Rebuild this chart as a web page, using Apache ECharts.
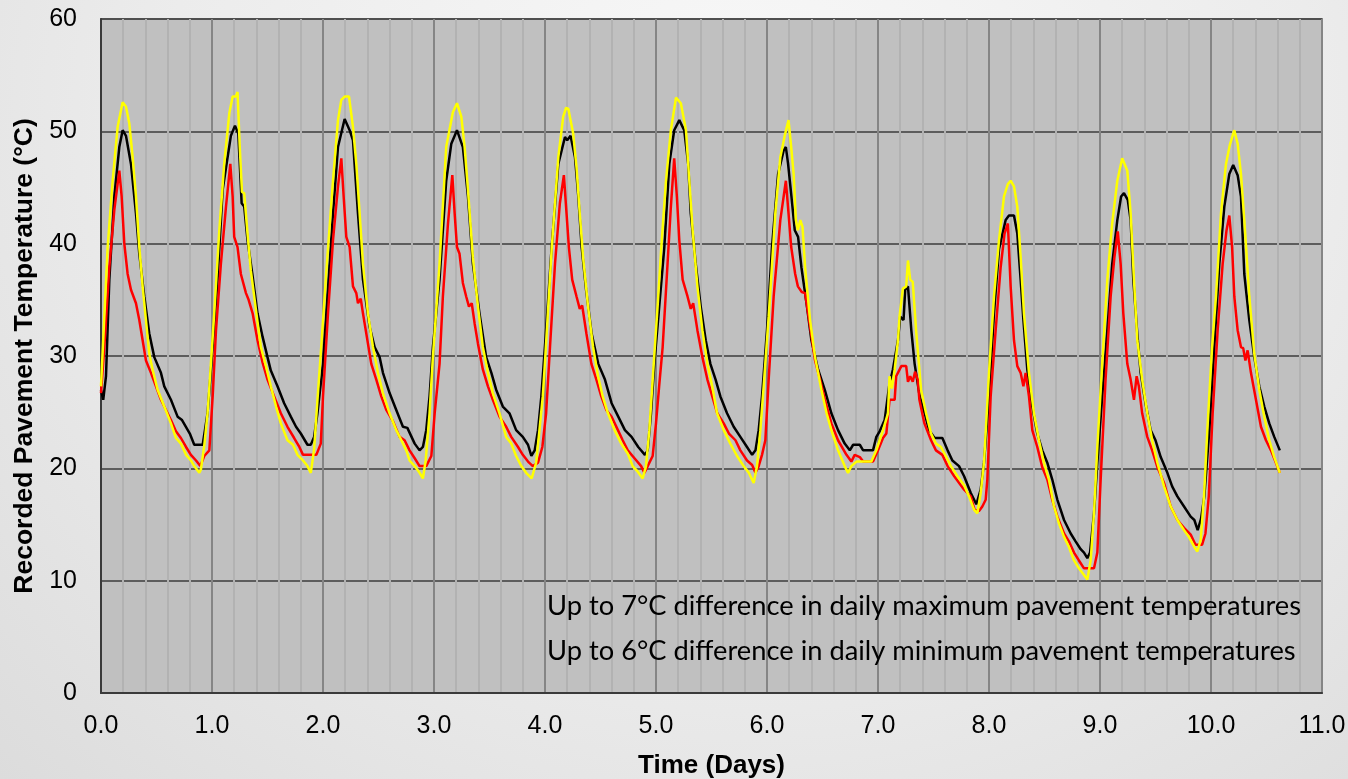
<!DOCTYPE html>
<html>
<head>
<meta charset="utf-8">
<script src="https://cdn.jsdelivr.net/npm/echarts@6/dist/echarts.min.js"></script>
<style>
  html, body { margin: 0; padding: 0; width: 1348px; height: 779px; overflow: hidden; }
  body { background: radial-gradient(ellipse at 55% 15%, #f8f8f8 0%, #ececec 55%, #dcdcdc 100%); }
  #chart { width: 1348px; height: 779px; }
</style>
</head>
<body>
<div id="chart"></div>
<script>
// Tick labels
const xTicks = [0, 1, 2, 3, 4, 5, 6, 7, 8, 9, 10, 11];
const yTicks = [0, 10, 20, 30, 40, 50, 60];

// [time (days), temperature (°C)] readings
const blackSeries = [
[0,27.0],[0.02,26.1],[0.045,28.2],[0.075,36.8],[0.12,44.2],[0.165,48.6],[0.195,50.1],[0.225,49.6],[0.27,47.1],[0.315,42.7],[0.345,39.1],[0.39,35.3],[0.435,32.0],[0.48,29.9],[0.54,28.5],[0.57,27.3],[0.63,26.1],[0.69,24.6],[0.73,24.3],[0.8,23.1],[0.84,22.1],[0.916,22.1],[0.96,24.9],
[1.006,30.8],[1.05,36.8],[1.096,44.8],[1.17,49.6],[1.207,50.5],[1.237,49.8],[1.267,43.6],[1.29,43.3],[1.32,40.3],[1.366,37.1],[1.41,33.8],[1.456,31.7],[1.5,29.9],[1.53,28.7],[1.59,27.3],[1.65,25.8],[1.71,24.6],[1.757,23.7],[1.8,23.1],[1.86,22.1],[1.89,22.1],[1.92,22.8],[1.95,24.9],
[2.0,29.3],[2.03,33.8],[2.09,42.7],[2.135,48.6],[2.195,51.1],[2.24,50.1],[2.27,49.2],[2.315,42.7],[2.36,36.8],[2.42,32.6],[2.465,30.8],[2.51,29.9],[2.54,28.5],[2.6,26.7],[2.66,25.2],[2.72,23.7],[2.76,23.6],[2.826,22.2],[2.87,21.6],[2.9,21.9],[2.93,23.4],[2.96,26.4],[2.99,30.8],
[3.05,36.8],[3.11,45.6],[3.156,48.9],[3.207,50.1],[3.26,48.6],[3.306,44.2],[3.35,38.2],[3.41,33.8],[3.47,29.9],[3.517,28.5],[3.56,27.0],[3.62,25.5],[3.68,24.9],[3.74,23.4],[3.8,22.8],[3.847,22.1],[3.877,21.1],[3.907,21.6],[3.937,23.4],[3.967,26.4],
[4.01,32.3],[4.06,39.7],[4.12,47.1],[4.18,49.5],[4.2,49.2],[4.23,49.6],[4.27,47.7],[4.3,44.2],[4.33,39.7],[4.37,35.9],[4.42,32.0],[4.48,29.3],[4.54,27.9],[4.6,25.8],[4.66,24.6],[4.72,23.4],[4.78,22.8],[4.84,21.9],[4.9,21.2],[4.925,21.6],[4.955,24.9],[4.985,29.3],
[5.03,34.5],[5.075,39.7],[5.12,47.1],[5.164,50.1],[5.21,51.0],[5.254,50.1],[5.29,47.1],[5.313,42.7],[5.358,38.2],[5.403,34.4],[5.448,31.4],[5.49,29.3],[5.537,27.9],[5.58,26.4],[5.64,24.9],[5.7,23.7],[5.76,22.8],[5.82,21.9],[5.866,21.2],[5.896,21.6],[5.925,23.4],[5.955,26.4],
[6.0,32.3],[6.045,39.7],[6.1,46.2],[6.15,48.3],[6.17,48.6],[6.19,47.1],[6.22,44.2],[6.25,41.2],[6.28,40.6],[6.31,37.9],[6.36,34.4],[6.4,31.4],[6.46,28.8],[6.52,27.0],[6.58,24.9],[6.64,23.4],[6.7,22.2],[6.746,21.6],[6.776,22.1],[6.836,22.1],[6.866,21.6],[6.955,21.6],[6.985,22.8],
[7.015,23.3],[7.06,24.3],[7.1,27.3],[7.134,28.8],[7.18,31.4],[7.2,33.5],[7.23,33.2],[7.245,35.9],[7.27,36.2],[7.3,32.3],[7.33,29.3],[7.376,26.4],[7.42,24.9],[7.46,23.4],[7.51,22.7],[7.58,22.7],[7.627,21.6],[7.67,20.7],[7.73,20.2],[7.776,19.3],[7.836,17.8],[7.886,16.8],[7.925,18.1],[7.955,20.5],
[8.0,26.4],[8.045,33.8],[8.09,39.5],[8.15,42.1],[8.18,42.5],[8.225,42.5],[8.255,40.9],[8.285,36.8],[8.31,33.2],[8.345,28.8],[8.39,25.5],[8.435,23.1],[8.48,21.6],[8.525,20.5],[8.57,19.0],[8.616,17.2],[8.676,15.4],[8.736,14.2],[8.78,13.5],[8.826,12.8],[8.856,12.5],[8.886,12.0],[8.91,12.5],[8.946,16.0],[8.976,20.5],
[9.02,26.4],[9.066,32.3],[9.11,38.2],[9.156,42.1],[9.19,44.2],[9.216,44.5],[9.25,43.9],[9.276,42.1],[9.3,36.8],[9.336,32.0],[9.366,28.5],[9.41,25.8],[9.456,23.4],[9.5,22.5],[9.547,21.0],[9.607,19.6],[9.65,18.4],[9.697,17.5],[9.757,16.6],[9.817,15.7],[9.85,15.4],[9.88,14.5],[9.91,15.5],[9.94,17.5],[9.985,23.4],
[10.03,30.8],[10.075,38.2],[10.12,43.3],[10.165,46.2],[10.2,47.0],[10.24,46.1],[10.27,44.2],[10.3,37.3],[10.345,33.2],[10.39,29.9],[10.435,27.3],[10.48,25.5],[10.525,24.0],[10.57,22.8],[10.62,21.6]
];

const yellowSeries = [
[0,27.3],[0.06,39.7],[0.105,45.6],[0.15,50.4],[0.195,52.6],[0.225,52.2],[0.255,50.7],[0.285,47.7],[0.315,44.2],[0.345,39.7],[0.375,36.2],[0.405,33.2],[0.435,30.2],[0.465,28.8],[0.51,27.0],[0.57,25.5],[0.63,24.0],[0.675,22.7],[0.72,22.2],[0.766,21.2],[0.81,20.7],[0.84,20.2],[0.886,19.6],[0.9,19.9],[0.93,22.0],[0.96,24.9],[0.99,29.3],
[1.02,33.8],[1.066,41.2],[1.11,47.1],[1.156,51.6],[1.186,53.1],[1.215,53.1],[1.23,53.5],[1.25,48.6],[1.27,44.6],[1.29,44.5],[1.32,40.9],[1.35,37.6],[1.40,33.8],[1.44,30.8],[1.486,29.1],[1.53,27.3],[1.577,25.5],[1.62,24.0],[1.68,22.5],[1.73,22.1],[1.77,21.2],[1.82,20.7],[1.86,20.2],[1.89,19.6],[1.92,21.7],[1.95,26.1],[1.98,30.2],
[2.03,37.5],[2.09,45.6],[2.135,51.0],[2.165,52.8],[2.195,53.1],[2.234,53.1],[2.27,50.4],[2.3,47.1],[2.33,42.7],[2.36,38.2],[2.405,33.8],[2.45,30.8],[2.495,28.5],[2.54,26.7],[2.6,24.9],[2.66,23.4],[2.706,22.5],[2.75,21.6],[2.78,20.7],[2.826,20.2],[2.87,19.6],[2.9,19.1],[2.925,20.7],[2.96,24.9],[2.99,29.9],
[3.05,38.2],[3.11,48.6],[3.17,51.7],[3.207,52.5],[3.246,51.3],[3.276,48.6],[3.306,44.8],[3.35,38.8],[3.396,34.4],[3.44,30.8],[3.486,28.5],[3.53,26.7],[3.59,24.9],[3.65,22.8],[3.696,22.2],[3.74,21.1],[3.787,20.2],[3.83,19.6],[3.88,19.1],[3.92,20.5],[3.95,23.4],[3.98,26.4],
[4.0,29.5],[4.06,39.5],[4.12,47.7],[4.164,51.3],[4.19,52.1],[4.21,52.0],[4.254,49.8],[4.284,46.8],[4.313,42.7],[4.343,38.8],[4.388,34.4],[4.433,30.8],[4.478,28.2],[4.52,26.4],[4.567,24.9],[4.627,23.4],[4.687,22.2],[4.746,21.3],[4.79,20.2],[4.836,19.7],[4.88,19.1],[4.91,20.2],[4.94,23.4],[4.97,27.9],
[5.015,34.5],[5.05,40.0],[5.09,45.6],[5.134,50.1],[5.18,53.0],[5.224,52.5],[5.27,50.1],[5.3,45.6],[5.33,41.2],[5.373,36.2],[5.418,32.3],[5.463,29.3],[5.507,27.3],[5.55,24.9],[5.61,23.4],[5.67,22.2],[5.73,21.1],[5.79,20.2],[5.836,19.6],[5.88,18.7],[5.91,20.2],[5.94,23.4],[5.97,27.3],
[6.015,33.5],[6.075,42.7],[6.12,47.7],[6.164,49.8],[6.194,51.0],[6.218,48.6],[6.24,46.2],[6.26,42.1],[6.278,41.2],[6.3,42.1],[6.32,41.5],[6.343,37.9],[6.388,33.2],[6.433,29.9],[6.49,27.0],[6.537,24.9],[6.58,23.4],[6.64,21.6],[6.7,20.2],[6.73,19.6],[6.76,20.2],[6.806,20.6],[6.94,20.6],[6.985,21.6],
[7.015,22.5],[7.045,23.4],[7.09,24.9],[7.104,28.2],[7.125,27.1],[7.15,28.8],[7.18,31.4],[7.194,33.5],[7.224,36.0],[7.254,36.2],[7.27,38.5],[7.29,36.8],[7.313,36.6],[7.343,32.3],[7.388,27.0],[7.433,24.9],[7.478,23.1],[7.522,22.2],[7.567,21.9],[7.61,21.1],[7.657,20.2],[7.716,19.3],[7.776,18.5],[7.82,17.5],[7.866,16.3],[7.895,16.0],[7.925,17.8],[7.955,20.5],
[8.0,28.5],[8.045,35.3],[8.09,40.3],[8.135,44.2],[8.17,45.3],[8.195,45.6],[8.225,45.1],[8.255,43.3],[8.285,38.8],[8.315,33.8],[8.36,28.5],[8.405,24.9],[8.45,22.5],[8.495,20.5],[8.54,19.0],[8.586,16.6],[8.63,15.1],[8.676,13.9],[8.72,13.0],[8.766,11.8],[8.81,11.1],[8.856,10.5],[8.886,10.1],[8.916,11.8],[8.946,16.0],[8.976,21.9],
[9.02,29.3],[9.066,36.8],[9.11,41.8],[9.156,45.6],[9.2,47.6],[9.246,46.5],[9.276,42.7],[9.306,36.8],[9.336,31.4],[9.38,27.9],[9.426,24.9],[9.47,22.5],[9.517,20.5],[9.577,18.4],[9.637,16.6],[9.697,15.4],[9.757,14.5],[9.8,13.9],[9.85,13.0],[9.877,12.6],[9.907,13.6],[9.937,17.5],[9.967,23.4],
[10.01,30.8],[10.045,35.3],[10.09,42.7],[10.135,47.1],[10.17,48.8],[10.21,50.1],[10.24,48.9],[10.27,46.2],[10.3,42.1],[10.345,35.3],[10.39,30.2],[10.435,27.0],[10.48,24.6],[10.525,22.5],[10.57,21.0],[10.62,19.6]
];

const redSeries = [
[0,26.7],[0.03,30.8],[0.075,37.9],[0.12,43.0],[0.165,46.5],[0.186,44.2],[0.21,40.0],[0.24,37.3],[0.27,35.9],[0.315,34.7],[0.345,33.2],[0.375,31.4],[0.405,29.6],[0.45,28.5],[0.495,27.3],[0.54,26.1],[0.6,24.9],[0.63,24.3],[0.675,23.3],[0.72,22.7],[0.766,21.9],[0.81,21.2],[0.856,20.7],[0.895,20.2],[0.93,21.1],[0.976,21.6],
[1.006,26.4],[1.036,32.3],[1.08,38.2],[1.126,43.3],[1.165,47.1],[1.186,44.2],[1.2,40.6],[1.23,39.7],[1.26,37.3],[1.306,35.6],[1.33,35.0],[1.366,33.8],[1.41,31.4],[1.456,29.4],[1.5,27.9],[1.56,26.4],[1.62,24.9],[1.68,23.7],[1.74,22.7],[1.787,21.9],[1.82,21.2],[1.94,21.2],[1.98,22.2],
[2.0,26.4],[2.045,33.8],[2.09,40.3],[2.135,45.1],[2.165,47.6],[2.186,44.2],[2.21,40.6],[2.24,39.7],[2.27,36.2],[2.3,35.6],[2.315,34.7],[2.34,35.1],[2.36,33.8],[2.39,32.0],[2.435,29.3],[2.48,27.9],[2.525,26.4],[2.57,25.2],[2.63,24.2],[2.69,22.8],[2.735,22.5],[2.78,21.6],[2.826,20.9],[2.87,20.2],[2.93,20.2],[2.976,21.1],
[3.006,24.9],[3.05,29.3],[3.08,35.3],[3.126,41.8],[3.165,46.1],[3.186,42.7],[3.207,39.7],[3.23,39.1],[3.26,36.5],[3.29,35.3],[3.315,34.4],[3.34,34.7],[3.366,32.9],[3.396,31.1],[3.44,28.8],[3.486,27.3],[3.53,26.1],[3.59,24.6],[3.65,23.7],[3.696,22.8],[3.757,21.9],[3.8,21.2],[3.847,20.6],[3.89,20.2],[3.937,20.5],[3.976,21.9],
[4.01,24.9],[4.045,30.8],[4.09,38.2],[4.134,43.6],[4.17,46.1],[4.194,42.7],[4.215,39.7],[4.245,36.8],[4.284,35.3],[4.313,34.2],[4.335,34.5],[4.373,32.0],[4.418,29.3],[4.463,27.9],[4.507,26.4],[4.552,25.2],[4.6,24.6],[4.657,23.4],[4.7,22.5],[4.746,21.6],[4.806,20.9],[4.866,20.2],[4.895,19.6],[4.925,20.2],[4.97,21.1],
[5.0,24.0],[5.03,27.5],[5.06,30.8],[5.104,38.2],[5.134,43.3],[5.164,47.6],[5.188,44.2],[5.21,40.3],[5.24,36.8],[5.284,35.3],[5.313,34.2],[5.335,34.7],[5.373,32.3],[5.418,29.9],[5.463,27.9],[5.507,26.4],[5.552,24.9],[5.61,24.0],[5.657,23.1],[5.716,22.5],[5.76,21.6],[5.82,20.7],[5.866,20.3],[5.896,19.6],[5.925,20.2],[5.955,21.2],[5.985,22.5],
[6.015,27.9],[6.06,35.3],[6.12,42.1],[6.17,45.6],[6.194,42.7],[6.218,39.7],[6.254,37.3],[6.278,36.2],[6.313,35.7],[6.343,35.6],[6.388,32.6],[6.433,29.6],[6.478,27.9],[6.522,26.1],[6.58,24.0],[6.64,22.5],[6.716,21.2],[6.76,20.6],[6.79,21.2],[6.836,21.0],[6.866,20.6],[6.955,20.6],
[7.0,21.6],[7.045,22.7],[7.075,23.1],[7.104,26.1],[7.15,26.1],[7.164,28.2],[7.21,29.1],[7.254,29.1],[7.27,27.7],[7.29,28.2],[7.313,27.7],[7.334,28.6],[7.358,27.9],[7.373,26.1],[7.418,24.0],[7.478,22.5],[7.522,21.6],[7.58,21.2],[7.627,20.2],[7.687,19.3],[7.746,18.5],[7.776,18.1],[7.836,17.5],[7.87,16.3],[7.91,16.2],[7.94,16.6],[7.97,17.2],[7.985,19.0],
[8.015,26.4],[8.06,32.3],[8.105,37.9],[8.14,40.9],[8.17,41.8],[8.195,36.2],[8.225,31.4],[8.255,29.1],[8.285,28.5],[8.31,27.3],[8.33,28.5],[8.36,26.4],[8.39,23.4],[8.435,21.9],[8.48,20.1],[8.525,19.0],[8.57,17.2],[8.616,15.7],[8.676,14.2],[8.72,13.5],[8.766,12.5],[8.81,11.8],[8.856,11.1],[8.946,11.1],[8.976,12.5],
[9.006,19.0],[9.05,27.9],[9.096,35.3],[9.13,38.8],[9.16,41.1],[9.186,38.2],[9.21,33.8],[9.246,29.3],[9.276,27.9],[9.306,26.1],[9.33,28.2],[9.35,27.3],[9.38,24.9],[9.426,22.8],[9.47,21.6],[9.517,20.1],[9.577,18.7],[9.637,16.6],[9.697,15.4],[9.757,14.7],[9.817,14.1],[9.86,13.2],[9.92,13.2],[9.95,14.2],[9.98,17.5],
[10.015,24.9],[10.06,32.3],[10.105,38.2],[10.14,41.2],[10.165,42.5],[10.19,39.7],[10.21,35.3],[10.24,32.3],[10.27,30.8],[10.29,30.7],[10.31,29.6],[10.33,30.5],[10.36,28.5],[10.405,26.1],[10.45,23.7],[10.495,22.5],[10.54,21.6],[10.585,20.5],[10.62,19.6]
];

const annotations = [
  'Up to 7°C difference in daily maximum pavement temperatures',
  'Up to 6°C difference in daily minimum pavement temperatures'
];

const chart = echarts.init(document.getElementById('chart'), null, { renderer: 'canvas' });

const lineSeries = (name, data, color) => ({
  name, type: 'line', data, symbol: 'none', smooth: false,
  lineStyle: { color, width: 2.5 }, itemStyle: { color },
  emphasis: { disabled: true }, z: 3
});

chart.setOption({
  animation: false,
  backgroundColor: 'transparent',
  grid: {
    left: 101, right: 26, top: 19, bottom: 86,
    containLabel: false, outerBoundsMode: 'none',
    show: true, backgroundColor: '#c0c0c0', borderColor: '#868686', borderWidth: 2
  },
  xAxis: {
    type: 'value', min: xTicks[0], max: xTicks[xTicks.length - 1], interval: 1,
    name: 'Time (Days)', nameLocation: 'middle', nameGap: 60,
    nameTextStyle: { fontFamily: 'Liberation Sans', fontWeight: 'bold', fontSize: 26, color: '#000' },
    axisLine: { show: true, lineStyle: { color: '#3a3a3a', width: 2 } },
    axisTick: { show: false },
    axisLabel: { formatter: v => v.toFixed(1), fontFamily: 'Liberation Sans', fontSize: 25, color: '#000', margin: 21 },
    splitLine: { show: true, lineStyle: { color: '#858585', width: 2 } },
    minorTick: { show: false, splitNumber: 5 },
    minorSplitLine: { show: true, lineStyle: { color: '#b2b2b2', width: 2 } }
  },
  yAxis: {
    type: 'value', min: yTicks[0], max: yTicks[yTicks.length - 1], interval: 10,
    name: 'Recorded Pavement Temperature (°C)', nameLocation: 'middle', nameGap: 62,
    nameTextStyle: { fontFamily: 'Liberation Sans', fontWeight: 'bold', fontSize: 26.5, color: '#000' },
    axisLine: { show: true, lineStyle: { color: '#3a3a3a', width: 2 } },
    axisTick: { show: false },
    axisLabel: { fontFamily: 'Liberation Sans', fontSize: 25, color: '#000', margin: 24 },
    splitLine: { show: true, lineStyle: { color: '#3c3c3c', width: 1.5 } }
  },
  graphic: [
    { type: 'text', left: 547, top: 593, z: 10,
      style: { text: annotations[0], font: '27.3px Lato', fill: '#000' } },
    { type: 'text', left: 547, top: 638, z: 10,
      style: { text: annotations[1], font: '27.3px Lato', fill: '#000' } }
  ],
  series: [
    lineSeries('Black sensor', blackSeries, '#000000'),
    lineSeries('Red sensor', redSeries, '#ff0000'),
    lineSeries('Yellow sensor', yellowSeries, '#ffff00')
  ]
});
</script>
</body>
</html>
